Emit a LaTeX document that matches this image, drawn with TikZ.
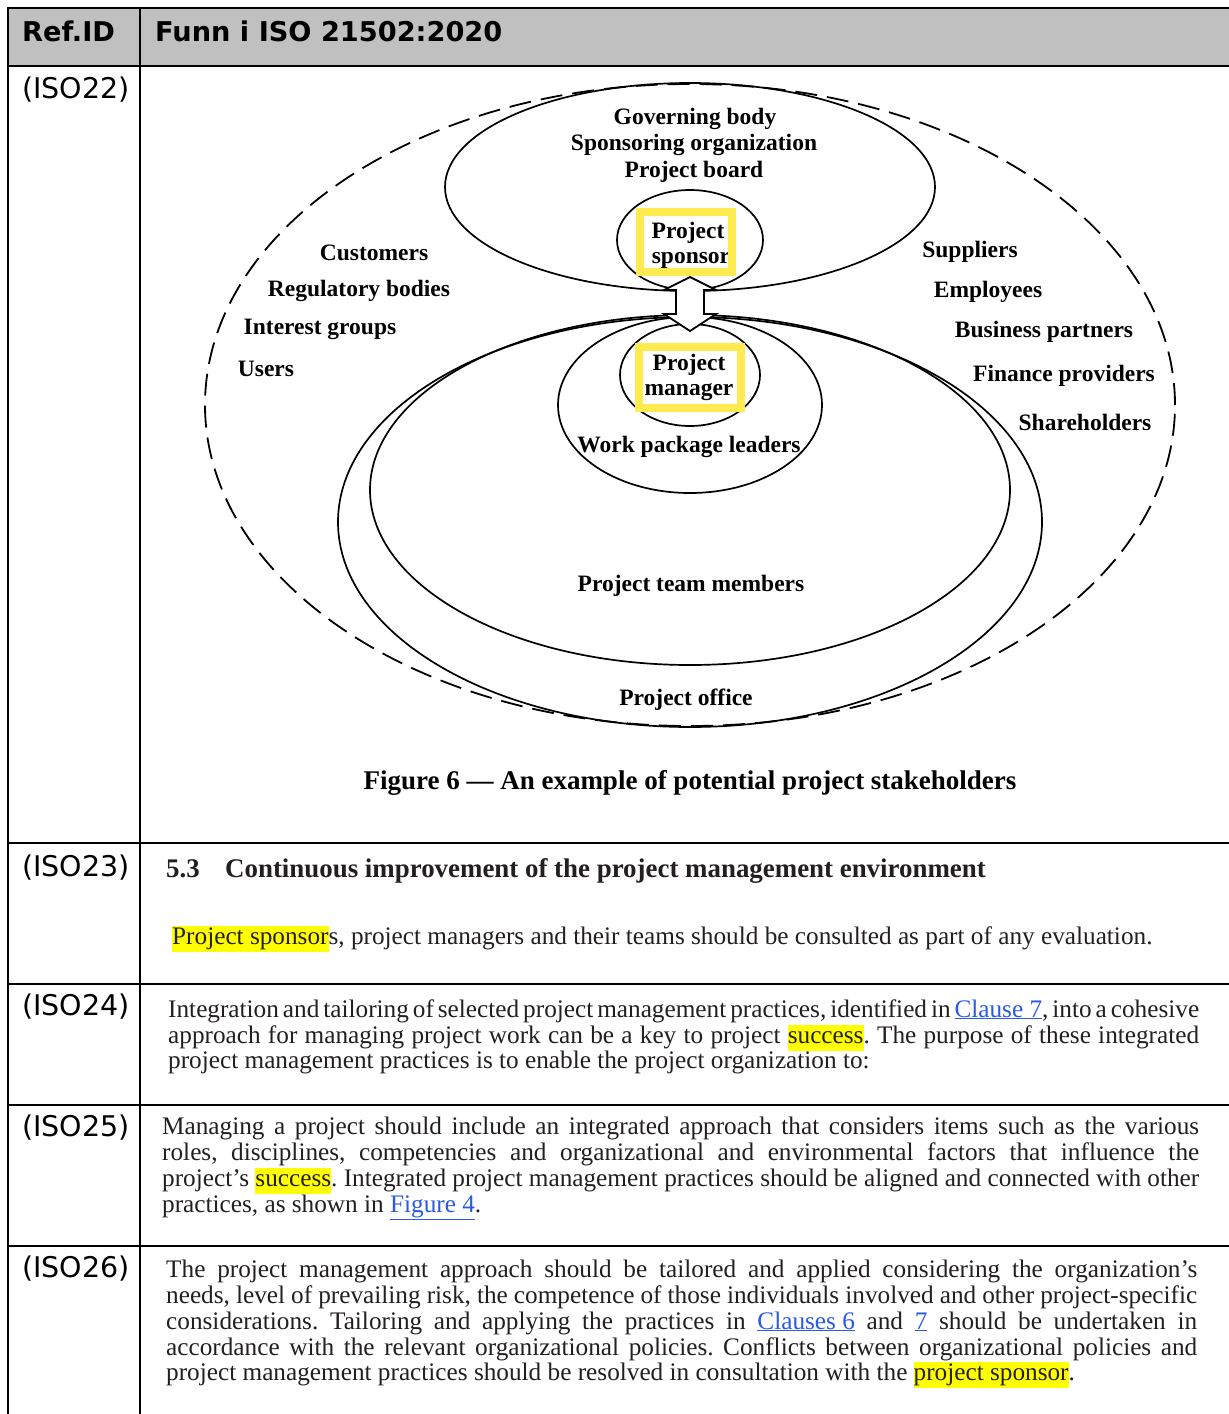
\documentclass[tikz,border=0pt]{standalone}
\usepackage{fontspec}
\setmainfont{Liberation Serif}
\newfontfamily\uisans{DejaVu Sans}
\usetikzlibrary{shapes.geometric}
\frenchspacing

\definecolor{hdrgray}{RGB}{192,192,192}
\definecolor{hly}{RGB}{255,255,0}
\definecolor{frameyellow}{RGB}{255,234,80}
\definecolor{linkblue}{RGB}{40,90,230}
\definecolor{bodyink}{RGB}{35,31,32}

% highlighted words and underlined cross references
\newcommand\hlt[1]{{\setlength{\fboxsep}{0pt}\colorbox{hly}{\strut #1}}}
\newcommand\lnk[1]{{\color{linkblue}\underline{#1}}}
% one justified line of running text, with generous interword shrink
\newcommand\jline[2]{{\spaceskip=.25em plus .25em minus .14em\relax\makebox[#1pt][s]{#2}}}
\newcommand\bodyfont{\fontsize{25.25}{26}\selectfont}

\begin{document}
\begin{tikzpicture}[x=1pt,y=-1pt,
  rule/.style={line width=2.6pt},
  ring/.style={ellipse, draw, line width=1.7pt, inner sep=0pt, outer sep=0pt},
  outerring/.style={ring, dash pattern=on 22pt off 10pt, line width=1.8pt},
  tag/.style={inner sep=0pt, font=\fontsize{23.5}{26}\selectfont\bfseries},
  caption/.style={inner sep=0pt, font=\fontsize{27}{30}\selectfont\bfseries},
  refid/.style={anchor=base west, inner sep=0pt, font=\uisans\fontsize{28.5}{30}\selectfont},
  hdr/.style={anchor=base west, inner sep=0pt, font=\uisans\bfseries\fontsize{27.2}{30}\selectfont},
  body/.style={anchor=base west, inner sep=0pt, font=\bodyfont, text=bodyink},
  heading/.style={anchor=base west, inner sep=0pt, font=\fontsize{26.9}{30}\selectfont\bfseries, text=bodyink},
  roleframe/.style={draw=frameyellow, line width=8pt, inner sep=0pt, outer sep=0pt},
  bridge/.style={draw, line width=1.8pt, fill=white, line join=miter}]

\useasboundingbox (0,0) rectangle (1229,1414);
\fill[white] (0,0) rectangle (1229,1414);

% ---------- table frame ----------
\fill[hdrgray] (8,8) rectangle (1229,66);
\draw[rule] (8,8) -- (1229,8);
\draw[rule] (8,66) -- (1229,66);
\draw[rule] (8,843) -- (1229,843);
\draw[rule] (8,984) -- (1229,984);
\draw[rule] (8,1105) -- (1229,1105);
\draw[rule] (8,1246) -- (1229,1246);
\draw[rule] (8,7) -- (8,1414);
\draw[rule] (140,7) -- (140,1414);

\node[hdr] (hRef) at (22,41) {Ref.ID};
\node[hdr] (hFunn) at (155,41) {Funn i ISO 21502:2020};

\node[refid] (r22) at (22,98) {(ISO22)};
\node[refid] (r23) at (22,876) {(ISO23)};
\node[refid] (r24) at (22,1015) {(ISO24)};
\node[refid] (r25) at (22,1136) {(ISO25)};
\node[refid] (r26) at (22,1277) {(ISO26)};

% ---------- stakeholder rings ----------
\node[outerring, minimum width=970pt, minimum height=642pt] (stake) at (690,405) {};
\node[ring, minimum width=490pt, minimum height=208pt] (govern) at (690,187) {};
\node[ring, minimum width=704pt, minimum height=410pt] (office) at (690,522) {};
\node[ring, minimum width=640pt, minimum height=350pt] (team) at (690,490) {};
\node[ring, minimum width=264pt, minimum height=176pt] (wpl) at (690,405) {};
\node[ring, minimum width=146pt, minimum height=100pt] (sponsor) at (690,240) {};
\node[ring, minimum width=140pt, minimum height=102pt] (manager) at (690,375) {};

% two-headed link between sponsor and manager
\coordinate (tipU) at (690,277);
\coordinate (tipD) at (690,331);
\draw[bridge] (tipU) -- (716,290) -- (704,290) -- (704,314) -- (716,314) -- (tipD)
  -- (664,314) -- (676,314) -- (676,290) -- (664,290) -- cycle;

% highlighted role frames
\node[roleframe, fill=white, minimum width=92pt, minimum height=60pt] (spbox) at (686,242) {};
\node[roleframe, fill=white, minimum width=102pt, minimum height=61pt] (pmbox) at (690,377.5) {};

\node[tag] (spA) at (688,233) {Project};
\node[tag] (spB) at (691,260) {sponsor};
\node[tag] (pmA) at (689,365) {Project};
\node[tag] (pmB) at (689,392) {manager};
\draw[draw=frameyellow, line width=8pt] (spbox.south west) rectangle (spbox.north east);
\draw[draw=frameyellow, line width=8pt] (pmbox.south west) rectangle (pmbox.north east);

% ring labels
\node[tag] (gov1) at (695,119) {Governing body};
\node[tag] (gov2) at (694,145) {Sponsoring organization};
\node[tag] (gov3) at (694,172) {Project board};
\node[tag] (cust) at (374,253) {Customers};
\node[tag] (reg)  at (359,291) {Regulatory bodies};
\node[tag] (intg) at (320,329) {Interest groups};
\node[tag] (usr)  at (266,369) {Users};
\node[tag] (supp) at (970,252) {Suppliers};
\node[tag] (empl) at (988,292) {Employees};
\node[tag] (bizp) at (1044,332) {Business partners};
\node[tag] (finp) at (1064,376) {Finance providers};
\node[tag] (shar) at (1085,422) {Shareholders};
\node[tag] (wplT) at (689,447) {Work package leaders};
\node[tag] (ptmT) at (691,586) {Project team members};
\node[tag] (poffT) at (686,700) {Project office};

\node[caption] (cap) at (690,783) {Figure 6 — An example of potential project stakeholders};

% ---------- ISO23 ----------
\node[heading] (t23n) at (166,877) {5.3};
\node[heading] (t23) at (225,877) {Continuous improvement of the project management environment};
\node[body] (b23) at (172,944) {\hlt{Project sponsor}s, project managers and their teams should be consulted as part of any evaluation.};

% ---------- ISO24 ----------
\node[body] (b24a) at (168,1017) {\jline{1031}{Integration and tailoring of selected project management practices, identified in \lnk{Clause 7}, into a cohesive}};
\node[body] (b24b) at (168,1043) {\jline{1031}{approach for managing project work can be a key to project \hlt{success}. The purpose of these integrated}};
\node[body] (b24c) at (168,1068) {project management practices is to enable the project organization to:};

% ---------- ISO25 ----------
\node[body] (b25a) at (162,1134) {\jline{1037}{Managing a project should include an integrated approach that considers items such as the various}};
\node[body] (b25b) at (162,1160) {\jline{1037}{roles, disciplines, competencies and organizational and environmental factors that influence the}};
\node[body] (b25c) at (162,1186) {\jline{1037}{project’s \hlt{success}. Integrated project management practices should be aligned and connected with other}};
\node[body] (b25d) at (162,1212) {practices, as shown in \lnk{Figure 4}.};

% ---------- ISO26 ----------
\node[body] (b26a) at (166,1277) {\jline{1031}{The project management approach should be tailored and applied considering the organization’s}};
\node[body] (b26b) at (166,1303) {\jline{1031}{needs, level of prevailing risk, the competence of those individuals involved and other project-specific}};
\node[body] (b26c) at (166,1329) {\jline{1031}{considerations. Tailoring and applying the practices in \lnk{Clauses 6} and \lnk{7} should be undertaken in}};
\node[body] (b26d) at (166,1355) {\jline{1031}{accordance with the relevant organizational policies. Conflicts between organizational policies and}};
\node[body] (b26e) at (166,1380) {project management practices should be resolved in consultation with the \hlt{project sponsor}.};

\end{tikzpicture}
\end{document}
